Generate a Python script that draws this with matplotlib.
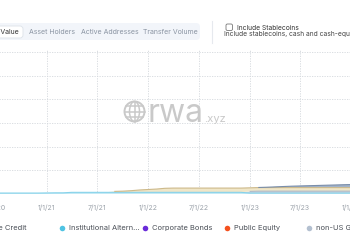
import matplotlib
matplotlib.use('Agg')
import matplotlib.pyplot as plt
import matplotlib.dates as mdates
from matplotlib.patches import FancyBboxPatch, Circle, Ellipse
from datetime import datetime
import numpy as np
import pandas as pd

plt.rcParams['font.family'] = ['Inter', 'DejaVu Sans']

# ---------------- data ----------------
months = pd.date_range('2020-07-01', '2024-01-01', freq='MS')

inst_alt = [0.04, 0.04, 0.04, 0.04, 0.04, 0.04, 0.045, 0.05, 0.05,
            0.07, 0.07, 0.07, 0.07, 0.07, 0.07, 0.07, 0.07, 0.07, 0.07, 0.07,
            0.07, 0.07, 0.07, 0.07, 0.07, 0.07, 0.07, 0.07, 0.07, 0.07,
            0.04, 0.04, 0.04, 0.04, 0.04, 0.04, 0.04, 0.04, 0.04, 0.04, 0.04, 0.04, 0.04]
non_us_gov = [0] * 30 + [0.07, 0.08, 0.08, 0.08, 0.08, 0.08, 0.08, 0.08, 0.08,
                         0.08, 0.08, 0.08, 0.08]
commodities = [0] * 14 + [0.04, 0.05, 0.07, 0.10, 0.12, 0.14, 0.17,
                          0.18, 0.18, 0.18, 0.18, 0.18, 0.18, 0.18, 0.18, 0.18,
                          0.15, 0.15, 0.15, 0.15, 0.15, 0.15, 0.15, 0.15, 0.15,
                          0.15, 0.15, 0.15, 0.15]
us_treasury = [0] * 30 + [0.0, 0.005, 0.015, 0.03, 0.045, 0.06, 0.07, 0.08, 0.09,
                          0.10, 0.11, 0.12, 0.13]

series_fill = ['#c4e9f4', '#cad2dc', '#f0e6c8', '#a3b3c8']
series_edge = ['#86d2ea', '#aeb9c7', '#cdb98a', '#7a8eaa']

tick_dates = ['2020-07-01', '2021-01-01', '2021-07-01', '2022-01-01',
              '2022-07-01', '2023-01-01', '2023-07-01', '2024-01-01']
tick_labels = ['7/1/20', '1/1/21', '7/1/21', '1/1/22', '7/1/22', '1/1/23', '7/1/23', '1/1/24']

tabs = ['Asset Holders', 'Active Addresses', 'Transfer Volume']
legend_labels = ['Institutional Altern…', 'Corporate Bonds', 'Public Equity', 'non-US Gov…']
legend_colors = ['#4fc3e3', '#6a2bd9', '#f4511e', '#b3c0d0']

# ---------------- figure ----------------
W, H = 350, 250
fig = plt.figure(figsize=(3.5, 2.5), dpi=100)
fig.patch.set_facecolor('white')

base_px, top_px = 194, 49.6
ax = fig.add_axes([-10 / W, (H - base_px) / H, 370 / W, (base_px - top_px) / H])
ax.set_facecolor('none')

x = mdates.date2num(months.to_pydatetime())
layers = [np.array(inst_alt), np.array(non_us_gov), np.array(commodities), np.array(us_treasury)]
ax.stackplot(x, *layers, colors=series_fill, linewidth=0, zorder=2)
cum = np.zeros(len(x))
for arr, ec in zip(layers, series_edge):
    cum = cum + arr
    top = np.where(arr > 0, cum, np.nan)
    ax.plot(x, top, color=ec, lw=0.8, zorder=3, solid_capstyle='butt')

d0 = mdates.date2num(datetime(2021, 1, 1))
ppd = 0.27805
ax.set_xlim(d0 - 56.7 / ppd, d0 + 313.3 / ppd)
ax.set_ylim(0, 6.1)
ax.set_yticks(range(0, 7))
ax.set_xticks(mdates.date2num([datetime.fromisoformat(d) for d in tick_dates]))
ax.set_xticklabels(tick_labels)
ax.tick_params(axis='x', length=0, pad=7.5, labelsize=5, labelcolor='#9aa1a9')
ax.tick_params(axis='y', length=0, labelleft=False)
ax.grid(True, color='#d4d8dd', lw=0.6, linestyle=(0, (1.5, 1.5)), zorder=0)
for s in ax.spines.values():
    s.set_visible(False)

# ---------------- overlay (UI, watermark, legend) ----------------
ov = fig.add_axes([0, 0, 1, 1])
ov.set_xlim(0, W)
ov.set_ylim(H, 0)
ov.axis('off')
ov.patch.set_alpha(0)

ov.add_patch(FancyBboxPatch((-10, 23), 210, 17, boxstyle='round,pad=0,rounding_size=4',
                            fc='#f2f5fa', ec='none'))
ov.add_patch(FancyBboxPatch((-10, 26), 33, 12, boxstyle='round,pad=0,rounding_size=3',
                            fc='white', ec='#dde2e9', lw=0.6))
ov.text(19, 32, 'Total Value', ha='right', va='center', fontsize=5, color='#333333')
for t, cx in zip(tabs, [52, 110, 170]):
    ov.text(cx, 32, t, ha='center', va='center', fontsize=5, color='#8b95a3')
ov.plot([212, 212], [21, 43], color='#e6e9ee', lw=0.8)
ov.add_patch(FancyBboxPatch((226, 24), 6.5, 6.5, boxstyle='round,pad=0,rounding_size=1.5',
                            fc='white', ec='#777777', lw=0.6))
ov.text(237, 27.5, 'Include Stablecoins', ha='left', va='center', fontsize=4.8, color='#333333')
ov.text(224, 34, 'Include stablecoins, cash and cash-equivalents', ha='left', va='center',
        fontsize=4.8, color='#444444')

# watermark
wm = '#c9c9c9'
gc = (134.5, 111.5)
ov.add_patch(Circle(gc, 10, fill=False, ec=wm, lw=1.4))
ov.add_patch(Ellipse(gc, 10, 20, fill=False, ec=wm, lw=1.1))
ov.plot([gc[0], gc[0]], [gc[1] - 10, gc[1] + 10], color=wm, lw=1.1)
for dy, half in [(-5.5, 8.3), (0, 10), (5.5, 8.3)]:
    ov.plot([gc[0] - half, gc[0] + half], [gc[1] + dy, gc[1] + dy], color=wm, lw=1.1)
ov.text(148, 122, 'rwa', ha='left', va='baseline', fontsize=23, color=wm)
ov.text(204, 122, '.xyz', ha='left', va='baseline', fontsize=8, color=wm)

# legend
ly = 228
ov.text(27, ly, 'Private Credit', ha='right', va='center', fontsize=5.4, color='#4a4f57')
for lab, col, mx in zip(legend_labels, legend_colors, [62, 145, 227, 309]):
    ov.plot(mx, ly, 'o', ms=4, color=col, mec='none')
    ov.text(mx + 7, ly, lab, ha='left', va='center', fontsize=5.4, color='#4a4f57')

fig.savefig('out.png', dpi=100)
